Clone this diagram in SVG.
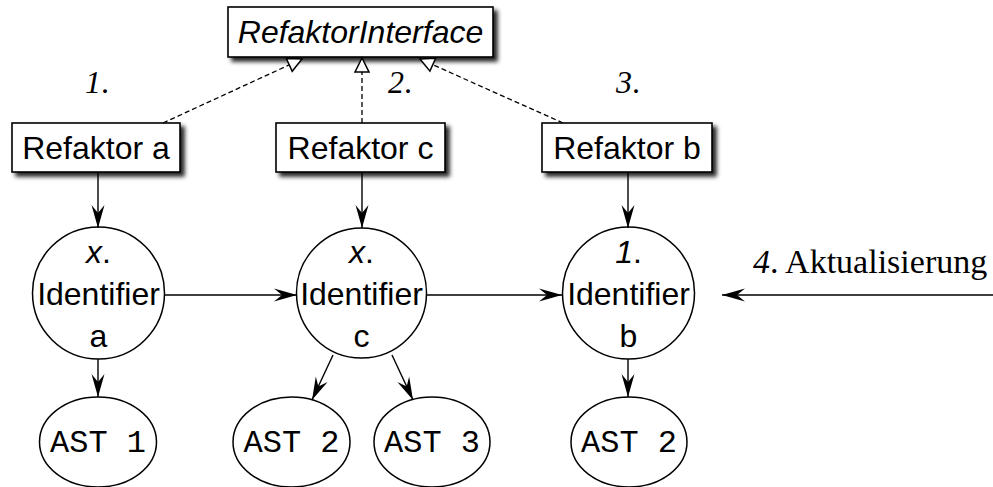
<svg xmlns="http://www.w3.org/2000/svg" width="993" height="487" viewBox="0 0 993 487">
  <style>
    .box { fill: #fff; stroke: #000; stroke-width: 1.6; }
    .node { fill: #fff; stroke: #000; stroke-width: 1.5; }
    .sans { font-family: "Liberation Sans", Arial, sans-serif; font-size: 32px; fill: #000; }
    .mono { font-family: "Liberation Mono", "Courier New", monospace; font-size: 32px; fill: #000; }
    .serif { font-family: "Liberation Serif", "Times New Roman", serif; font-size: 32px; fill: #000; }
    .it { font-style: italic; }
    .edge { fill: none; stroke: #000; stroke-width: 1.4; }
    .dash { fill: none; stroke: #000; stroke-width: 1.3; stroke-dasharray: 5 3; }
  </style>
  <defs>
    <filter id="shadow" x="-10%" y="-20%" width="130%" height="160%">
      <feGaussianBlur in="SourceAlpha" stdDeviation="2"/>
      <feOffset dx="4" dy="4" result="b"/>
      <feFlood flood-color="#000" flood-opacity="0.85"/>
      <feComposite in2="b" operator="in"/>
      <feMerge>
        <feMergeNode/>
        <feMergeNode in="SourceGraphic"/>
      </feMerge>
    </filter>
    <marker id="arrow" markerUnits="userSpaceOnUse" viewBox="-24 -8 26 16" refX="0" refY="0" markerWidth="26" markerHeight="16" orient="auto">
      <path d="M0,0 L-23,-6.5 L-15,0 L-23,6.5 Z" fill="#000"/>
    </marker>
    <marker id="hollow" markerUnits="userSpaceOnUse" viewBox="-18 -10 20 20" refX="0" refY="0" markerWidth="20" markerHeight="20" orient="auto" overflow="visible">
      <path d="M0,0 L-14,-7 L-14,7 Z" fill="#fff" stroke="#000" stroke-width="1.5" stroke-linejoin="miter"/>
    </marker>
  </defs>

  <!-- interface -->
  <g id="refaktor-interface">
    <rect class="box" x="228" y="7" width="265" height="50" filter="url(#shadow)"/>
    <text class="sans it" x="360.5" y="43" text-anchor="middle">RefaktorInterface</text>
  </g>

  <!-- refactorings -->
  <g id="refaktor-a">
    <rect class="box" x="12" y="123" width="168" height="49" filter="url(#shadow)"/>
    <text class="sans" x="96" y="159" text-anchor="middle">Refaktor a</text>
  </g>
  <g id="refaktor-c">
    <rect class="box" x="276" y="123" width="169" height="49" filter="url(#shadow)"/>
    <text class="sans" x="360.5" y="159" text-anchor="middle">Refaktor c</text>
  </g>
  <g id="refaktor-b">
    <rect class="box" x="542" y="123" width="170" height="49" filter="url(#shadow)"/>
    <text class="sans" x="627" y="159" text-anchor="middle">Refaktor b</text>
  </g>

  <!-- step numbers -->
  <g id="step-labels">
    <text class="serif" x="85" y="93"><tspan class="it">1</tspan>.</text>
    <text class="serif" x="388" y="93"><tspan class="it">2</tspan>.</text>
    <text class="serif" x="616" y="93"><tspan class="it">3</tspan>.</text>
    <text class="serif" x="753" y="273" style="font-size:34px"><tspan class="it">4</tspan>. Aktualisierung</text>
  </g>

  <!-- identifiers -->
  <g id="identifier-a">
    <circle class="node" cx="98.5" cy="293" r="66"/>
    <text class="sans" x="98.5" y="263" text-anchor="middle"><tspan class="it">x</tspan>.</text>
    <text class="sans" x="98.5" y="305" text-anchor="middle">Identifier</text>
    <text class="sans" x="98.5" y="347" text-anchor="middle">a</text>
  </g>
  <g id="identifier-c">
    <circle class="node" cx="361.5" cy="293" r="65"/>
    <text class="sans" x="361.5" y="263" text-anchor="middle"><tspan class="it">x</tspan>.</text>
    <text class="sans" x="361.5" y="305" text-anchor="middle">Identifier</text>
    <text class="sans" x="361.5" y="347" text-anchor="middle">c</text>
  </g>
  <g id="identifier-b">
    <circle class="node" cx="628.5" cy="293" r="66"/>
    <text class="sans" x="628.5" y="263" text-anchor="middle"><tspan class="it">1</tspan>.</text>
    <text class="sans" x="628.5" y="305" text-anchor="middle">Identifier</text>
    <text class="sans" x="628.5" y="347" text-anchor="middle">b</text>
  </g>

  <!-- syntax trees -->
  <g id="ast-1">
    <ellipse class="node" cx="98" cy="442" rx="58.5" ry="45"/>
    <text class="mono" x="98" y="452" text-anchor="middle">AST 1</text>
  </g>
  <g id="ast-2-c">
    <ellipse class="node" cx="291.5" cy="442" rx="58.5" ry="45"/>
    <text class="mono" x="291.5" y="452" text-anchor="middle">AST 2</text>
  </g>
  <g id="ast-3">
    <ellipse class="node" cx="432" cy="442" rx="58" ry="45"/>
    <text class="mono" x="432" y="452" text-anchor="middle">AST 3</text>
  </g>
  <g id="ast-2-b">
    <ellipse class="node" cx="629" cy="442" rx="58" ry="45"/>
    <text class="mono" x="629" y="452" text-anchor="middle">AST 2</text>
  </g>

  <!-- connectors, drawn over the box shadows -->
  <g id="connectors">
    <!-- realisation of the interface -->
    <line class="dash" x1="163" y1="123" x2="302" y2="59" marker-end="url(#hollow)"/>
    <line class="dash" x1="362" y1="123" x2="362" y2="58" marker-end="url(#hollow)"/>
    <line class="dash" x1="563" y1="123" x2="420" y2="59" marker-end="url(#hollow)"/>
    <!-- refactor to identifier -->
    <line class="edge" x1="98" y1="172" x2="98" y2="228" marker-end="url(#arrow)"/>
    <line class="edge" x1="362" y1="172" x2="362" y2="228" marker-end="url(#arrow)"/>
    <line class="edge" x1="628" y1="172" x2="628" y2="228" marker-end="url(#arrow)"/>
    <!-- identifier chain -->
    <line class="edge" x1="165" y1="295" x2="297" y2="295" marker-end="url(#arrow)"/>
    <line class="edge" x1="426" y1="295" x2="562" y2="295" marker-end="url(#arrow)"/>
    <line class="edge" x1="993" y1="295" x2="722" y2="295" marker-end="url(#arrow)"/>
    <!-- identifier to AST -->
    <line class="edge" x1="98" y1="359" x2="98" y2="397" marker-end="url(#arrow)"/>
    <line class="edge" x1="333" y1="355" x2="312" y2="400" marker-end="url(#arrow)"/>
    <line class="edge" x1="392" y1="355" x2="413" y2="400" marker-end="url(#arrow)"/>
    <line class="edge" x1="628" y1="359" x2="628" y2="397" marker-end="url(#arrow)"/>
  </g>
</svg>
